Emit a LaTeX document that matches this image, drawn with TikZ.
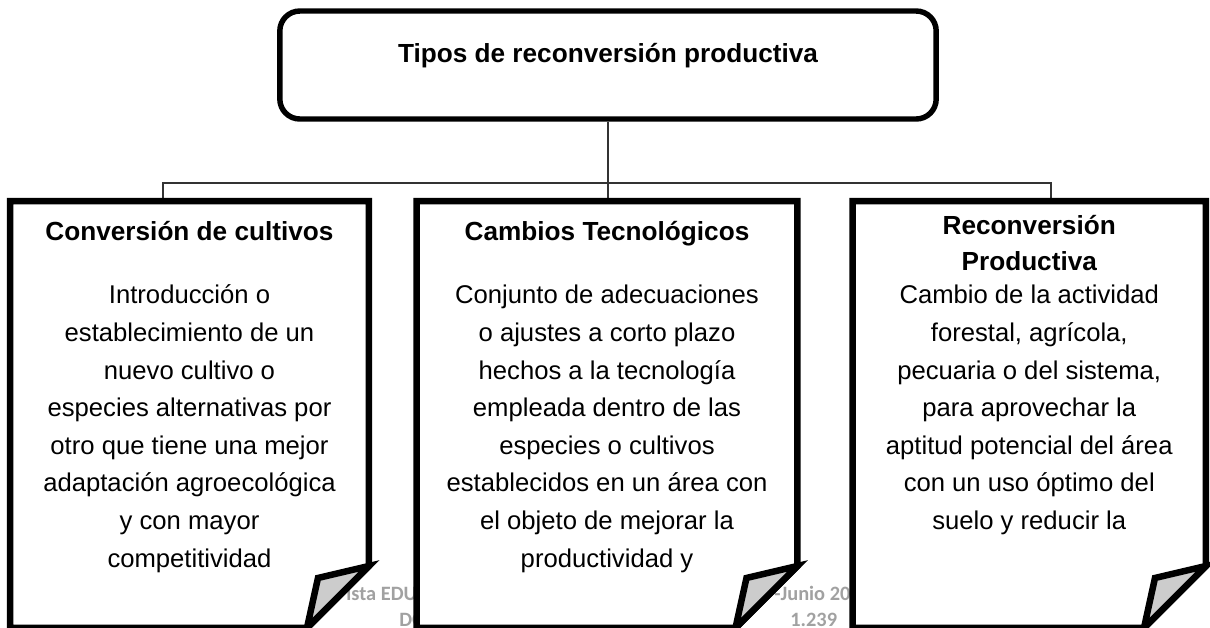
\documentclass[tikz,border=0pt]{standalone}
\usepackage{fontspec}
\setmainfont{Liberation Sans}
\newfontfamily\wmfont{Carlito}
\usetikzlibrary{positioning}
\usetikzlibrary{calc}

\tikzset{
	card/.style={rectangle,draw=none,outer sep=0pt,inner sep=0pt,minimum height=8.54cm},
	cardline/.style={line width=3.7pt,line join=miter,fill=white},
	flap/.style={line width=3.7pt,line join=miter,fill=black!20},
	headbox/.style={rectangle,rounded corners=0.4cm,draw,line width=3.1pt,minimum width=13.13cm,minimum height=2.16cm},
	conn/.style={line width=0.8pt,draw=black!80},
	headtitle/.style={font=\fontsize{14.9}{19.8}\selectfont\bfseries,anchor=base,inner sep=0pt},
	cardtitle/.style={font=\fontsize{14.9}{20.6}\selectfont\bfseries,align=center,anchor=north,inner sep=0pt},
	cardtext/.style={font=\fontsize{14.6}{21.4}\selectfont,align=center,anchor=north,inner sep=0pt},
	watermark/.style={font=\wmfont\bfseries\fontsize{11.6}{15}\selectfont,text=black!37,anchor=base west,inner sep=0pt},
}

% card with folded corner
\newcommand{\foldcard}[1]{%
	\filldraw[cardline] (#1.north west) -- (#1.north east)
		-- ([yshift=1.24cm]#1.south east) -- ([xshift=-1.24cm]#1.south east)
		-- (#1.south west) -- cycle;
	\filldraw[flap] ([xshift=-1.24cm]#1.south east) -- ([xshift=-1.02cm,yshift=1.0cm]#1.south east)
		-- ([yshift=1.24cm]#1.south east) -- cycle;
}

\begin{document}
\begin{tikzpicture}[x=0.02cm,y=-0.02cm]
	\useasboundingbox (0,0) rectangle (1210,627);
	
	% watermark.....................
	\node [watermark] (wmA) at (346,600) {ista EDU};
	\node [watermark] (wmB) at (399,626) {DO};
	\node [watermark] (wmC) at (774,600) {-Junio 20};
	\node [watermark] (wmD) at (790,626) {1.239};
	
	% head box......................
	\node [headbox] (top) at (608,65) {};
	\node [headtitle] (topT) at (608,62) {Tipos de reconversión productiva};
	
	% cards.........................
	\node [card,minimum width=7.18cm] (conv) at (189.5,414.5) {};
	\node [card,minimum width=7.62cm] (camb) at (607,414.5) {};
	\node [card,minimum width=7.07cm] (reco) at (1029.25,414.5) {};
	
	% connectors....................
	\coordinate (busL) at (163,183);
	\coordinate (busR) at (1051,183);
	\draw [conn] (top.south) -- (top.south |- camb.north);
	\draw [conn] (conv.north -| busL) |- (busR) -- (reco.north -| busR);
	
	\foldcard{conv}
	\foldcard{camb}
	\foldcard{reco}
	
	% card titles...................
	\node [cardtitle] (convT) at ([yshift=-0.28cm]conv.north) {\strut Conversión de cultivos};
	\node [cardtitle] (cambT) at ([yshift=-0.28cm]camb.north) {\strut Cambios Tecnológicos};
	\node [cardtitle] (recoT) at ([yshift=-0.16cm]reco.north) {\strut Reconversión\\Productiva};
	
	% card texts....................
	\node [cardtext] (convB) at ([yshift=-1.522cm]conv.north) {\strut Introducción o\\establecimiento de un\\nuevo cultivo o\\especies alternativas por\\otro que tiene una mejor\\adaptación agroecológica\\y con mayor\\competitividad};
	\node [cardtext] (cambB) at ([yshift=-1.522cm]camb.north) {\strut Conjunto de adecuaciones\\o ajustes a corto plazo\\hechos a la tecnología\\empleada dentro de las\\especies o cultivos\\establecidos en un área con\\el objeto de mejorar la\\productividad y};
	\node [cardtext] (recoB) at ([yshift=-1.522cm]reco.north) {\strut Cambio de la actividad\\forestal, agrícola,\\pecuaria o del sistema,\\para aprovechar la\\aptitud potencial del área\\con un uso óptimo del\\suelo y reducir la};
	
\end{tikzpicture}
\end{document}
